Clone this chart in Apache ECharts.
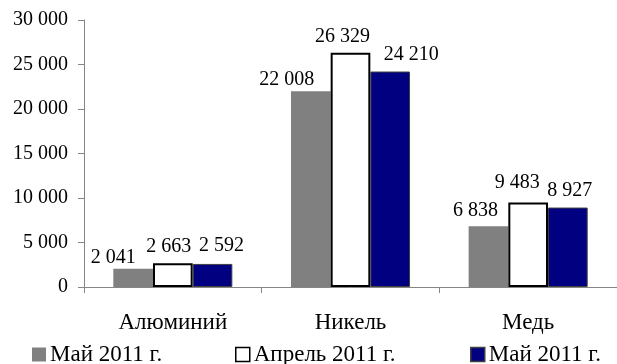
<!DOCTYPE html>
<html>
<head>
<meta charset="utf-8">
<script src="https://cdn.jsdelivr.net/npm/echarts@6/dist/echarts.min.js"></script>
<style>
  html, body { margin: 0; padding: 0; background: #fff; }
  #chart { width: 617px; height: 364px; }
</style>
</head>
<body>
<div id="chart"></div>
<script>
// Metal categories and monthly values
const categories = ['Алюминий', 'Никель', 'Медь'];
const seriesNames = ['Май 2011 г.', 'Апрель 2011 г.', 'Май 2011 г.'];
const mayPrev = [2041, 22008, 6838];
const april = [2663, 26329, 9483];
const mayCur = [2592, 24210, 8927];
const yTicks = [0, 5000, 10000, 15000, 20000, 25000, 30000];

// Label nudges so neighbouring value labels do not collide
const labelShift = [
  [[-20, -1], [-24, -1], [-13, -5]],
  [[-4, -7], [-8, -6], [-11, -10]],
  [[9, -8], [21, -7], [2, -7]]
];

const FONT = 'Liberation Serif';
const fmt = v => String(v).replace(/\B(?=(\d{3})+(?!\d))/g, ' ');

const styles = [
  { color: '#808080', borderColor: '#808080', borderWidth: 0 },
  { color: '#ffffff', borderColor: '#000000', borderWidth: 2 },
  { color: '#000080', borderColor: '#404040', borderWidth: 1 }
];

function buildData(values, si) {
  return values.map((v, i) => ({
    value: v,
    label: { offset: labelShift[si][i] }
  }));
}

const seriesValues = [mayPrev, april, mayCur];
const series = seriesValues.map((vals, si) => ({
  name: seriesNames[si],
  type: 'bar',
  barGap: '0%',
  barCategoryGap: '33%',
  data: buildData(vals, si),
  itemStyle: styles[si],
  label: {
    show: true,
    position: 'top',
    distance: 0,
    fontFamily: FONT,
    fontSize: 20,
    color: '#000',
    formatter: p => fmt(p.value)
  }
}));

const legendLefts = [32, 235, 470];
const legendIcon = [
  { color: '#808080', borderWidth: 0 },
  { color: '#ffffff', borderColor: '#000000', borderWidth: 1.5 },
  { color: '#000080', borderColor: '#404040', borderWidth: 1.5 }
];
const legends = seriesNames.map((n, i) => ({
  left: legendLefts[i],
  top: 343,
  padding: 0,
  itemWidth: 14,
  itemHeight: 14,
  itemGap: 0,
  icon: 'rect',
  textStyle: { fontFamily: FONT, fontSize: 23, color: '#000', padding: [0, 0, 0, -1] },
  data: [{ name: n, itemStyle: legendIcon[i] }]
}));

const chart = echarts.init(document.getElementById('chart'), null, { renderer: 'canvas' });
chart.setOption({
  animation: false,
  backgroundColor: '#fff',
  grid: { left: 84, right: -12, top: 20, bottom: 77, containLabel: false },
  legend: legends,
  xAxis: {
    type: 'category',
    data: categories,
    axisLine: { lineStyle: { color: '#868686', width: 1 } },
    axisTick: { show: true, length: 6, lineStyle: { color: '#868686' } },
    axisLabel: { margin: 24, fontFamily: FONT, fontSize: 23, color: '#000' }
  },
  yAxis: {
    type: 'value',
    min: yTicks[0],
    max: yTicks[yTicks.length - 1],
    interval: yTicks[1] - yTicks[0],
    axisLine: { show: true, lineStyle: { color: '#868686', width: 1 } },
    axisTick: { show: true, length: 6, lineStyle: { color: '#868686' } },
    splitLine: { show: false },
    axisLabel: { margin: 16, fontFamily: FONT, fontSize: 20, color: '#000', formatter: v => fmt(v) }
  },
  series: series
});
</script>
</body>
</html>
